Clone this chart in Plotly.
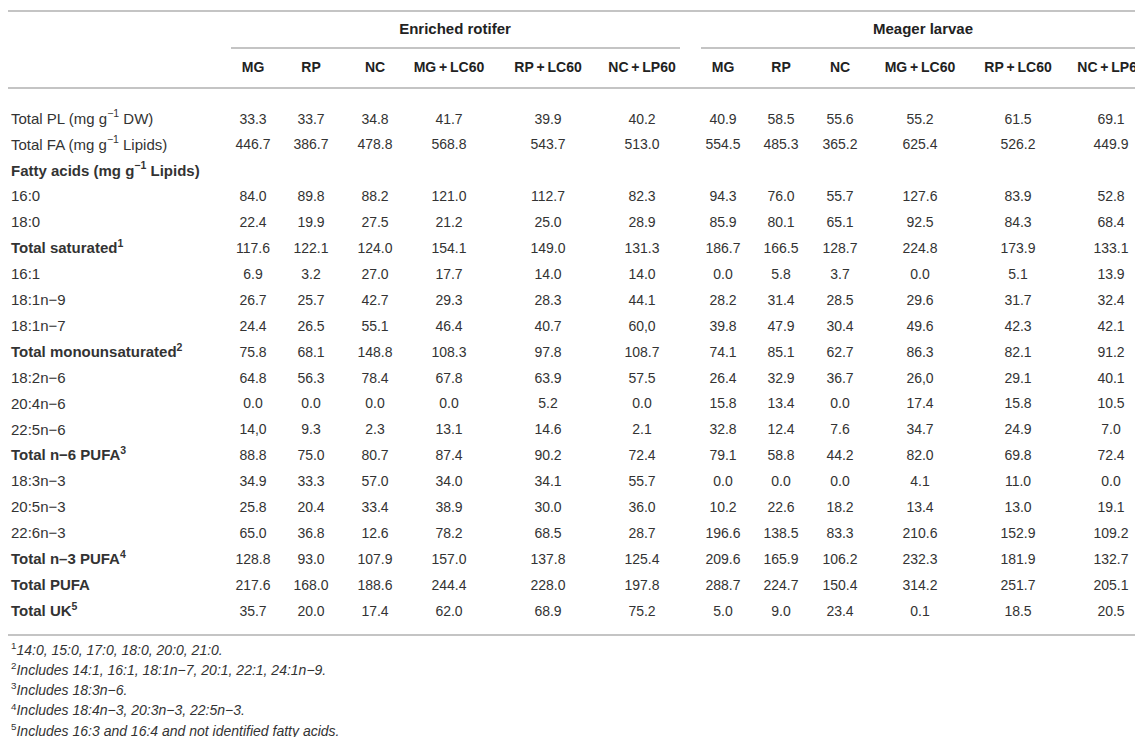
import plotly.graph_objects as go

# row labels (pseudo-html for bold / superscripts)
row_labels = [
    "Total PL (mg g<sup>−1</sup> DW)",
    "Total FA (mg g<sup>−1</sup> Lipids)",
    "<b>Fatty acids (mg g<sup>−1</sup> Lipids)</b>",
    "16:0", "18:0",
    "<b>Total saturated<sup>1</sup></b>",
    "16:1", "18:1n−9", "18:1n−7",
    "<b>Total monounsaturated<sup>2</sup></b>",
    "18:2n−6", "20:4n−6", "22:5n−6",
    "<b>Total n−6 PUFA<sup>3</sup></b>",
    "18:3n−3", "20:5n−3", "22:6n−3",
    "<b>Total n–3 PUFA<sup>4</sup></b>",
    "<b>Total PUFA</b>",
    "<b>Total UK<sup>5</sup></b>",
]

groups = ["Enriched rotifer", "Meager larvae"]
diets = ["MG", "RP", "NC", "MG+LC60", "RP+LC60", "NC+LP60"]

# enriched rotifer columns ("" = section header row, no value)
rot_mg = ["33.3", "446.7", "", "84.0", "22.4", "117.6", "6.9", "26.7", "24.4", "75.8",
          "64.8", "0.0", "14,0", "88.8", "34.9", "25.8", "65.0", "128.8", "217.6", "35.7"]
rot_rp = ["33.7", "386.7", "", "89.8", "19.9", "122.1", "3.2", "25.7", "26.5", "68.1",
          "56.3", "0.0", "9.3", "75.0", "33.3", "20.4", "36.8", "93.0", "168.0", "20.0"]
rot_nc = ["34.8", "478.8", "", "88.2", "27.5", "124.0", "27.0", "42.7", "55.1", "148.8",
          "78.4", "0.0", "2.3", "80.7", "57.0", "33.4", "12.6", "107.9", "188.6", "17.4"]
rot_mg_lc = ["41.7", "568.8", "", "121.0", "21.2", "154.1", "17.7", "29.3", "46.4", "108.3",
             "67.8", "0.0", "13.1", "87.4", "34.0", "38.9", "78.2", "157.0", "244.4", "62.0"]
rot_rp_lc = ["39.9", "543.7", "", "112.7", "25.0", "149.0", "14.0", "28.3", "40.7", "97.8",
             "63.9", "5.2", "14.6", "90.2", "34.1", "30.0", "68.5", "137.8", "228.0", "68.9"]
rot_nc_lp = ["40.2", "513.0", "", "82.3", "28.9", "131.3", "14.0", "44.1", "60,0", "108.7",
             "57.5", "0.0", "2.1", "72.4", "55.7", "36.0", "28.7", "125.4", "197.8", "75.2"]

# meager larvae columns
lar_mg = ["40.9", "554.5", "", "94.3", "85.9", "186.7", "0.0", "28.2", "39.8", "74.1",
          "26.4", "15.8", "32.8", "79.1", "0.0", "10.2", "196.6", "209.6", "288.7", "5.0"]
lar_rp = ["58.5", "485.3", "", "76.0", "80.1", "166.5", "5.8", "31.4", "47.9", "85.1",
          "32.9", "13.4", "12.4", "58.8", "0.0", "22.6", "138.5", "165.9", "224.7", "9.0"]
lar_nc = ["55.6", "365.2", "", "55.7", "65.1", "128.7", "3.7", "28.5", "30.4", "62.7",
          "36.7", "0.0", "7.6", "44.2", "0.0", "18.2", "83.3", "106.2", "150.4", "23.4"]
lar_mg_lc = ["55.2", "625.4", "", "127.6", "92.5", "224.8", "0.0", "29.6", "49.6", "86.3",
             "26,0", "17.4", "34.7", "82.0", "4.1", "13.4", "210.6", "232.3", "314.2", "0.1"]
lar_rp_lc = ["61.5", "526.2", "", "83.9", "84.3", "173.9", "5.1", "31.7", "42.3", "82.1",
             "29.1", "15.8", "24.9", "69.8", "11.0", "13.0", "152.9", "181.9", "251.7", "18.5"]
lar_nc_lp = ["69.1", "449.9", "", "52.8", "68.4", "133.1", "13.9", "32.4", "42.1", "91.2",
             "40.1", "10.5", "7.0", "72.4", "0.0", "19.1", "109.2", "132.7", "205.1", "20.5"]

footnotes = [
    "<sup>1</sup><i>14:0, 15:0, 17:0, 18:0, 20:0, 21:0.</i>",
    "<sup>2</sup><i>Includes 14:1, 16:1, 18:1n−7, 20:1, 22:1, 24:1n−9.</i>",
    "<sup>3</sup><i>Includes 18:3n−6.</i>",
    "<sup>4</sup><i>Includes 18:4n−3, 20:3n−3, 22:5n−3.</i>",
    "<sup>5</sup><i>Includes 16:3 and 16:4 and not identified fatty acids.</i>",
]

columns = [rot_mg, rot_rp, rot_nc, rot_mg_lc, rot_rp_lc, rot_nc_lp,
           lar_mg, lar_rp, lar_nc, lar_mg_lc, lar_rp_lc, lar_nc_lp]

# layout (pixels, y downwards)
W, H = 1143, 737
col_x = [245, 303, 367, 441, 540, 634, 715, 773, 832, 912, 1010, 1103]
group_x = [447, 915]
group_line = [(223, 672), (693, 1143)]
ROW0, PITCH = 112, 25.9
row_y = [ROW0 + i * PITCH for i in range(len(row_labels))]
FOOT0, FPITCH = 643, 20.3
foot_y = [FOOT0 + i * FPITCH for i in range(len(footnotes))]

FONT = "Liberation Sans, Arial, sans-serif"
TXT = "#333333"
HEAD = "#222222"
RULE = "#c4c4c4"

fig = go.Figure()

# row labels
fig.add_trace(go.Scatter(
    x=[3] * len(row_labels), y=row_y, text=row_labels, mode="text",
    textposition="middle right",
    textfont=dict(family=FONT, size=15, color=TXT), hoverinfo="skip"))

# value columns (skip the empty section-header cells)
for x, vals in zip(col_x, columns):
    ys = [y for y, v in zip(row_y, vals) if v]
    txt = [v for v in vals if v]
    fig.add_trace(go.Scatter(
        x=[x] * len(txt), y=ys, text=txt, mode="text",
        textposition="middle center",
        textfont=dict(family=FONT, size=14, color=TXT), hoverinfo="skip"))

# column headers (thin spaces around "+" like the typeset original)
head_txt = ["<b>%s</b>" % d.replace("+", "\u2009+\u2009") for d in diets * 2]
fig.add_trace(go.Scatter(
    x=col_x, y=[60] * len(col_x), text=head_txt,
    mode="text", textposition="middle center",
    textfont=dict(family=FONT, size=14, color=HEAD), hoverinfo="skip"))

# group headers
fig.add_trace(go.Scatter(
    x=group_x, y=[22, 22], text=["<b>%s</b>" % g for g in groups],
    mode="text", textposition="middle center",
    textfont=dict(family=FONT, size=15, color=HEAD), hoverinfo="skip"))

# footnotes
fig.add_trace(go.Scatter(
    x=[3] * len(footnotes), y=foot_y, text=footnotes, mode="text",
    textposition="middle right",
    textfont=dict(family=FONT, size=14, color=TXT), hoverinfo="skip"))

# horizontal rules
for y in [3, 80, 627]:
    fig.add_shape(type="line", x0=0, x1=W, y0=y, y1=y,
                  line=dict(color=RULE, width=2))
for x0, x1 in group_line:
    fig.add_shape(type="line", x0=x0, x1=x1, y0=40, y1=40,
                  line=dict(color=RULE, width=2))

fig.update_xaxes(range=[0, W], visible=False, fixedrange=True)
fig.update_yaxes(range=[H, 0], visible=False, fixedrange=True)
fig.update_layout(
    width=W, height=H, margin=dict(l=0, r=0, t=0, b=0),
    plot_bgcolor="white", paper_bgcolor="white",
    showlegend=False, hovermode=False,
)

fig.write_html("out.html")
